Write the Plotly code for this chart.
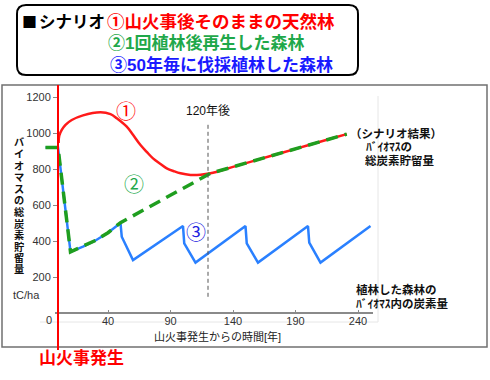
import plotly.graph_objects as go

# ---------------- data ----------------
years_natural = [0.5, 1, 3, 6, 11, 20, 34, 42, 47, 55, 60, 66, 71, 76, 82, 87, 93, 98, 106, 114, 122, 140, 160, 180, 200, 220, 231]
carbon_natural = [945, 985, 1017, 1045, 1072, 1098, 1115, 1105, 1082, 1035, 990, 933, 895, 859, 828, 804, 787, 776, 767, 768, 776, 812, 852, 892, 932, 972, 994]

years_replant = [-10, 0, 10, 20, 30, 40, 50, 122, 140, 160, 180, 200, 220, 231]
carbon_replant = [920, 920, 340, 369, 403, 446, 502, 776, 812, 852, 892, 932, 972, 994]

years_harvest = [-10, 0, 10, 20, 30, 40, 50, 51, 60, 100, 101, 110, 150, 151, 160, 200, 201, 210, 250]
carbon_harvest = [920, 920, 340, 369, 403, 446, 500, 424, 294, 483, 387, 280, 483, 387, 280, 483, 391, 280, 483]

x_ticks = [40, 90, 140, 190, 240]
y_ticks = [200, 400, 600, 800, 1000, 1200]
marker_year = 120

W, H = 490, 380
def px(x):
    return x / W
def py(y):
    return 1 - y / H

FONT = "Liberation Sans, Noto Sans CJK JP, sans-serif"
JFONT = "Noto Sans CJK JP, sans-serif"

RED = "#ff1a1a"
GREEN_LINE = "#1f9e1f"
BLUE_LINE = "#2a80ff"

fig = go.Figure()
fig.add_trace(go.Scatter(x=years_harvest, y=carbon_harvest, mode="lines",
                         line=dict(color=BLUE_LINE, width=2.5), showlegend=False, hoverinfo="skip"))
fig.add_trace(go.Scatter(x=years_natural, y=carbon_natural, mode="lines", line_shape="spline",
                         line=dict(color=RED, width=2.5), showlegend=False, hoverinfo="skip"))
fig.add_trace(go.Scatter(x=years_replant, y=carbon_replant, mode="lines",
                         line=dict(color=GREEN_LINE, width=3.5, dash="12px,7px"), showlegend=False, hoverinfo="skip"))

shapes = []
# outer chart frame
shapes.append(dict(type="rect", xref="paper", yref="paper", x0=px(2), x1=px(487), y0=py(347), y1=py(85),
                   line=dict(color="#707070", width=1.5), layer="below"))
# faint plot-area border lines
shapes.append(dict(type="line", xref="paper", yref="paper", x0=px(378), x1=px(378), y0=py(96), y1=py(322),
                   line=dict(color="#e6e6e6", width=1), layer="below"))
shapes.append(dict(type="line", xref="paper", yref="paper", x0=px(40), x1=px(378), y0=py(322), y1=py(322),
                   line=dict(color="#e6e6e6", width=1), layer="below"))
# x-axis baseline
shapes.append(dict(type="line", xref="paper", yref="paper", x0=px(55), x1=px(373), y0=py(313), y1=py(313),
                   line=dict(color="#8a8a8a", width=2)))
# 120-year marker
shapes.append(dict(type="line", xref="x", yref="y", x0=marker_year, x1=marker_year, y0=90, y1=1060,
                   line=dict(color="#555555", width=1, dash="4px,3px")))
# fire event line
shapes.append(dict(type="line", xref="x", yref="paper", x0=0, x1=0, y0=py(350), y1=py(85),
                   line=dict(color="#ff0000", width=2)))
# rounded title box
x0, x1, y0, y1 = px(17), px(358), py(75), py(5)
rx, ry = 9 / W, 9 / H
path = (f"M {x0+rx},{y1} L {x1-rx},{y1} Q {x1},{y1} {x1},{y1-ry} L {x1},{y0+ry} Q {x1},{y0} {x1-rx},{y0} "
        f"L {x0+rx},{y0} Q {x0},{y0} {x0},{y0+ry} L {x0},{y1-ry} Q {x0},{y1} {x0+rx},{y1} Z")
shapes.append(dict(type="path", xref="paper", yref="paper", path=path,
                   line=dict(color="#000000", width=2), fillcolor="white"))

ann = []
def text(x, y, s, size, color="#000", anchor="left", bold=False, family=FONT, align="left"):
    ann.append(dict(x=px(x), y=py(y), xref="paper", yref="paper", text=(f"<b>{s}</b>" if bold else s),
                    showarrow=False, xanchor=anchor, yanchor="middle", align=align,
                    font=dict(size=size, color=color, family=family)))

# title box text
text(20, 22, "■", 15, "#000", bold=True, family=JFONT)
text(37, 22, "シナリオ", 16.5, "#000", bold=True)
text(105, 22, "①山火事後そのままの天然林", 17.5, "#ff0000", bold=True)
text(106, 43, "②1回植林後再生した森林", 17, "#1fa84a", bold=True)
text(108, 65, "③50年毎に伐採植林した森林", 17, "#1a1aff", bold=True)

# vertical y-axis title (upright characters stacked)
ytitle = "バイオマスの総炭素貯留量"
for i, ch in enumerate(ytitle):
    text(19, 143 + i * 11.5, ch, 10.2, "#111", anchor="center", bold=True)
text(26, 295, "tC/ha", 11, "#333", anchor="center")
text(49, 320, "0", 11, "#333", anchor="center")

# x axis title
text(217, 336, "山火事発生からの時間[年]", 11, "#222", anchor="center")

# right side notes
text(396, 133, "（シナリオ結果）", 11.5, "#111", anchor="center", bold=True)
text(389, 146.5, "ﾊﾞｲｵﾏｽの", 11.5, "#111", anchor="center", bold=True)
text(399, 160, "総炭素貯留量", 11.5, "#111", anchor="center", bold=True)
text(354, 289, "植林した森林の", 11.5, "#111", anchor="left", bold=True)
text(354, 303, "ﾊﾞｲｵﾏｽ内の炭素量", 11.5, "#111", anchor="left", bold=True)

# fire label
text(37, 358, "山火事発生", 17, "#ff0000", bold=True)

# in-chart labels (data coordinates)
def dtext(x, y, s, size, color):
    ann.append(dict(x=x, y=y, xref="x", yref="y", text=s, showarrow=False,
                    font=dict(size=size, color=color, family=FONT)))
dtext(54.4, 1117, "①", 20, "#ff0000")
dtext(61, 711, "②", 20, "#22a84a")
dtext(110.5, 444, "③", 20, "#2222e0")
dtext(marker_year, 1122, "120年後", 12, "#111")

fig.update_layout(
    width=W, height=H, margin=dict(l=0, r=0, t=0, b=0),
    paper_bgcolor="white", plot_bgcolor="rgba(0,0,0,0)",
    showlegend=False, shapes=shapes, annotations=ann,
    xaxis=dict(domain=[px(45), px(378)], range=[-10.4, 256], tickvals=x_ticks,
               showgrid=False, zeroline=False, showline=False, ticks="inside", ticklen=3,
               tickcolor="#8a8a8a", tickfont=dict(size=11, color="#333", family=FONT)),
    yaxis=dict(domain=[py(313), py(88)], range=[0, 1250], tickvals=y_ticks,
               anchor="free", position=px(57),
               showgrid=False, zeroline=False, showline=False, ticks="outside", ticklen=4,
               tickcolor="#8a8a8a", tickfont=dict(size=11, color="#333", family=FONT)),
)

fig.write_html("out.html", config={"displayModeBar": False},
               post_script="document.body.style.margin='0';document.body.style.overflow='hidden';")
